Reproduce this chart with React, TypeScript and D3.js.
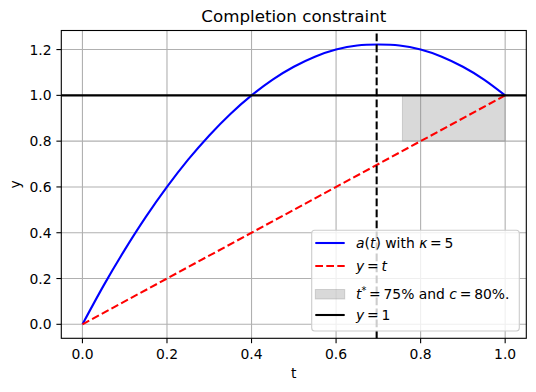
import React from 'react';
import * as d3 from 'd3';

// values
const tValues = [0, 0.05, 0.1, 0.15, 0.2, 0.25, 0.3, 0.35, 0.4, 0.45, 0.5, 0.55, 0.6, 0.65, 0.7, 0.75, 0.8, 0.85, 0.9, 0.95, 1.0];
const aValues = [0, 0.169, 0.325, 0.469, 0.6, 0.719, 0.825, 0.919, 1.0, 1.069, 1.125, 1.169, 1.2, 1.218, 1.222, 1.218, 1.2, 1.169, 1.125, 1.069, 1.0];
const diagT = [0, 1];
const xTicks = [0, 0.2, 0.4, 0.6, 0.8, 1.0];
const yTicks = [0, 0.2, 0.4, 0.6, 0.8, 1.0, 1.2];
const tPeak = 0.696;
const tStar = 0.757;
const cLevel = 0.8;

const W = 536, H = 392;
const margin = {top: 30.5, right: 9.7, bottom: 53.7, left: 61.3};
const FONT = "DejaVu Sans, sans-serif";
const SP = '\u2009';

export default function App() {
  const x = d3.scaleLinear().domain([-0.05, 1.05]).range([margin.left, W - margin.right]);
  const y = d3.scaleLinear().domain([-0.0611, 1.2833]).range([H - margin.bottom, margin.top]);
  const x0 = x.range()[0], x1 = x.range()[1];
  const y0 = y.range()[0], y1 = y.range()[1];

  const aLine = d3.line<number>()
    .x((d, i) => x(tValues[i]))
    .y(d => y(d))
    .curve(d3.curveNatural);
  const diag = d3.line<number>().x(d => x(d)).y(d => y(d));

  // legend
  const lx = 311.7, ly = 230.3, lw = 207.6, lh = 100.7;
  const hx0 = 315.3, hx1 = 344.7, tx = 356;
  const rows = [243, 266, 294, 315];

  return (
    <svg width={W} height={H} style={{position: 'absolute', left: 0, top: 0}} fontFamily={FONT}>
      <rect width={W} height={H} fill="white" />
      {/* grid */}
      <g stroke="#b0b0b0" strokeWidth={1.1}>
        {xTicks.map(t => <line key={'gx' + t} x1={x(t)} x2={x(t)} y1={y0} y2={y1} />)}
        {yTicks.map(t => <line key={'gy' + t} x1={x0} x2={x1} y1={y(t)} y2={y(t)} />)}
      </g>
      {/* shaded region */}
      <rect x={x(tStar)} y={y(1)} width={x(1) - x(tStar)} height={y(cLevel) - y(1)}
        fill="gray" fillOpacity={0.3} stroke="gray" strokeOpacity={0.3} strokeWidth={1} />
      <path d={aLine(aValues) || ''} fill="none" stroke="blue" strokeWidth={2.08} />
      <path d={diag(diagT) || ''} fill="none" stroke="red" strokeWidth={2.08} strokeDasharray="7.7,3.3" />
      <line x1={x0} x2={x1} y1={y(1)} y2={y(1)} stroke="black" strokeWidth={2.08} />
      <line x1={x(tPeak)} x2={x(tPeak)} y1={y0} y2={y1} stroke="black" strokeWidth={2.08} strokeDasharray="7.7,3.3" />

      {/* spines */}
      <rect x={x0} y={y1} width={x1 - x0} height={y0 - y1} fill="none" stroke="black" strokeWidth={1.1} />

      {/* ticks */}
      <g fontSize={13.9} fill="black">
        {xTicks.map(t => (
          <g key={'xt' + t}>
            <line x1={x(t)} x2={x(t)} y1={y0} y2={y0 + 4.9} stroke="black" strokeWidth={1.1} />
            <text x={x(t)} y={y0 + 21} textAnchor="middle">{t.toFixed(1)}</text>
          </g>
        ))}
        {yTicks.map(t => (
          <g key={'yt' + t}>
            <line x1={x0 - 4.9} x2={x0} y1={y(t)} y2={y(t)} stroke="black" strokeWidth={1.1} />
            <text x={x0 - 9.8} y={y(t)} dy="0.36em" textAnchor="end">{t.toFixed(1)}</text>
          </g>
        ))}
        <text x={(x0 + x1) / 2} y={378} textAnchor="middle">t</text>
        <text transform={`translate(20,${(y0 + y1) / 2}) rotate(-90)`} textAnchor="middle">y</text>
      </g>
      <text x={(x0 + x1) / 2} y={22} textAnchor="middle" fontSize={16.7}>Completion constraint</text>

      {/* legend */}
      <rect x={lx} y={ly} width={lw} height={lh} rx={3} fill="white" fillOpacity={0.8} stroke="#cccccc" strokeWidth={1.1} />
      <line x1={hx0} x2={hx1} y1={rows[0]} y2={rows[0]} stroke="blue" strokeWidth={2.08} />
      <line x1={hx0} x2={hx1} y1={rows[1]} y2={rows[1]} stroke="red" strokeWidth={2.08} strokeDasharray="7.7,3.3" />
      <rect x={hx0} y={rows[2] - 4.5} width={hx1 - hx0} height={9.5} fill="gray" fillOpacity={0.3} stroke="gray" strokeOpacity={0.3} />
      <line x1={hx0} x2={hx1} y1={rows[3]} y2={rows[3]} stroke="black" strokeWidth={2.08} />
      <g fontSize={13.9} fill="black">
        <text x={tx} y={rows[0] + 5}>
          <tspan fontStyle="italic">a</tspan>(<tspan fontStyle="italic">t</tspan>) with <tspan fontStyle="italic">κ</tspan>{SP}={SP}5
        </text>
        <text x={tx} y={rows[1] + 5}>
          <tspan fontStyle="italic">y</tspan>{SP}={SP}<tspan fontStyle="italic">t</tspan>
        </text>
        <text x={tx} y={rows[2] + 5}>
          <tspan fontStyle="italic">t</tspan><tspan dy={-5} fontSize={9.7}>*</tspan><tspan dy={5}>{SP}={SP}75% and </tspan><tspan fontStyle="italic">c</tspan>{SP}={SP}80%.
        </text>
        <text x={tx} y={rows[3] + 5}>
          <tspan fontStyle="italic">y</tspan>{SP}={SP}1
        </text>
      </g>
    </svg>
  );
}
